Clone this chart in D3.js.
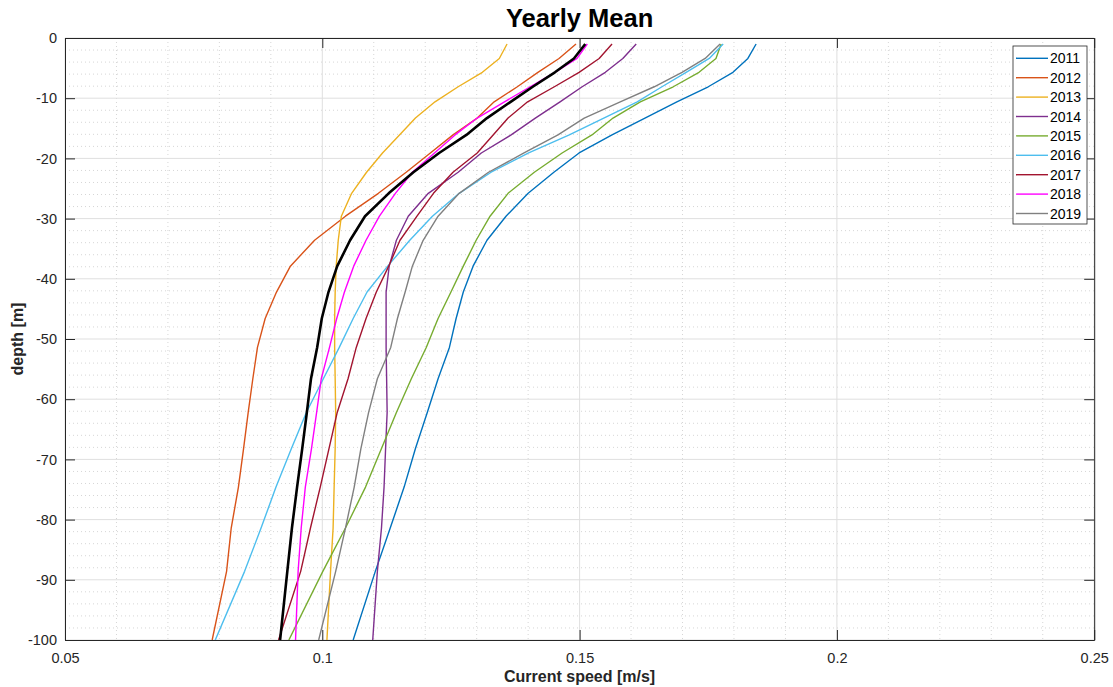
<!DOCTYPE html>
<html>
<head>
<meta charset="utf-8">
<script src="https://cdn.jsdelivr.net/npm/d3@7/dist/d3.min.js"></script>
<style>
  html, body { margin: 0; padding: 0; background: #ffffff; }
  svg { display: block; font-family: "Liberation Sans", Arial, Helvetica, sans-serif; }
</style>
</head>
<body>
<svg id="chart" width="1113" height="687"></svg>
<script>
// ---- data ----
const depths = [-1, -3.4, -5.7, -8.1, -10.6, -13.3, -16.1, -19.1, -22.3, -25.8, -29.6, -33.6, -37.9, -42.2, -46.6, -51.4, -56.6, -62.2, -68.2, -74.6, -81.4, -88.6, -100];

const years = ["2011", "2012", "2013", "2014", "2015", "2016", "2017", "2018", "2019"];

const speed2011 = [0.1843,0.1827,0.1798,0.1750,0.1689,0.1627,0.1563,0.1499,0.1450,0.1400,0.1357,0.1320,0.1293,0.1274,0.1260,0.1247,0.1225,0.1204,0.1181,0.1159,0.1132,0.1103,0.1060];
const speed2012 = [0.1493,0.1460,0.1419,0.1379,0.1334,0.1301,0.1254,0.1210,0.1163,0.1109,0.1045,0.0985,0.0938,0.0911,0.0889,0.0874,0.0865,0.0856,0.0847,0.0837,0.0823,0.0814,0.0786];
const speed2013 = [0.1359,0.1344,0.1311,0.1264,0.1219,0.1181,0.1150,0.1117,0.1086,0.1057,0.1037,0.1031,0.1027,0.1025,0.1024,0.1024,0.1025,0.1026,0.1025,0.1023,0.1021,0.1016,0.1009];
const speed2014 = [0.1610,0.1584,0.1550,0.1505,0.1462,0.1414,0.1367,0.1309,0.1264,0.1206,0.1167,0.1144,0.1130,0.1124,0.1124,0.1124,0.1125,0.1126,0.1123,0.1120,0.1115,0.1107,0.1098];
const speed2015 = [0.1775,0.1765,0.1732,0.1682,0.1618,0.1565,0.1524,0.1466,0.1412,0.1361,0.1326,0.1299,0.1274,0.1250,0.1225,0.1202,0.1173,0.1144,0.1115,0.1084,0.1045,0.1001,0.0935];
const speed2016 = [0.1779,0.1752,0.1707,0.1660,0.1612,0.1547,0.1480,0.1401,0.1328,0.1266,0.1214,0.1170,0.1127,0.1087,0.1060,0.1033,0.1002,0.0969,0.0940,0.0910,0.0881,0.0849,0.0792];
const speed2017 = [0.1563,0.1538,0.1499,0.1451,0.1399,0.1361,0.1332,0.1301,0.1254,0.1216,0.1184,0.1151,0.1129,0.1105,0.1085,0.1066,0.1050,0.1029,0.1013,0.0996,0.0977,0.0958,0.0915];
const speed2018 = [0.1515,0.1495,0.1452,0.1404,0.1354,0.1301,0.1258,0.1218,0.1175,0.1142,0.1111,0.1085,0.1061,0.1043,0.1028,0.1014,0.0998,0.0989,0.0979,0.0967,0.0959,0.0953,0.0948];
const speed2019 = [0.1773,0.1744,0.1699,0.1645,0.1579,0.1509,0.1458,0.1392,0.1323,0.1266,0.1225,0.1196,0.1175,0.1161,0.1146,0.1133,0.1107,0.1090,0.1075,0.1062,0.1045,0.1026,0.0993];
const speedMean = [0.1511,0.1489,0.1452,0.1409,0.1366,0.1320,0.1280,0.1227,0.1177,0.1129,0.1083,0.1054,0.1029,0.1012,0.0999,0.0990,0.0978,0.0970,0.0961,0.0951,0.0941,0.0932,0.0918];

const xTicks = [0.05, 0.1, 0.15, 0.2, 0.25];
const xTickLabels = ["0.05", "0.1", "0.15", "0.2", "0.25"];
const yTicks = [0, -10, -20, -30, -40, -50, -60, -70, -80, -90, -100];
const yTickLabels = ["0", "-10", "-20", "-30", "-40", "-50", "-60", "-70", "-80", "-90", "-100"];

const titleText = "Yearly Mean";
const xLabelText = "Current speed [m/s]";
const yLabelText = "depth [m]";

// ---- build ----
const seriesValues = [speed2011, speed2012, speed2013, speed2014, speed2015, speed2016, speed2017, speed2018, speed2019];
const colors = ["#0072BD", "#D95319", "#EDB120", "#7E2F8E", "#77AC30", "#4DBEEE", "#A2142F", "#FF00FF", "#808080"];

const L = 65, R = 1094.2, T = 38, B = 640;
const svg = d3.select("#chart");
const x = d3.scaleLinear().domain([0.05, 0.25]).range([L, R]);
const y = d3.scaleLinear().domain([-100, 0]).range([B, T]);
const textColor = "#262626";

// minor grid (dotted)
const xMinor = d3.range(0.06, 0.25, 0.01).map(v => +v.toFixed(2)).filter(v => Math.abs((v * 100) % 5) > 1e-6);
const yMinor = d3.range(-98, 0, 2).filter(v => v % 10 !== 0);
const grid = svg.append("g");
grid.selectAll("line.xminor").data(xMinor).join("line")
  .attr("x1", d => x(d)).attr("x2", d => x(d)).attr("y1", T).attr("y2", B)
  .attr("stroke", "#d6d6d6").attr("stroke-width", 1).attr("stroke-dasharray", "1,3");
grid.selectAll("line.yminor").data(yMinor).join("line")
  .attr("x1", L).attr("x2", R).attr("y1", d => y(d)).attr("y2", d => y(d))
  .attr("stroke", "#d6d6d6").attr("stroke-width", 1).attr("stroke-dasharray", "1,3");
// major grid
grid.selectAll("line.xmajor").data(xTicks).join("line")
  .attr("x1", d => x(d)).attr("x2", d => x(d)).attr("y1", T).attr("y2", B)
  .attr("stroke", "#dfdfdf").attr("stroke-width", 1);
grid.selectAll("line.ymajor").data(yTicks).join("line")
  .attr("x1", L).attr("x2", R).attr("y1", d => y(d)).attr("y2", d => y(d))
  .attr("stroke", "#dfdfdf").attr("stroke-width", 1);

// lines
const line = d3.line().x(d => x(d[0])).y(d => y(d[1]));
svg.append("clipPath").attr("id", "clip").append("rect")
  .attr("x", L).attr("y", T).attr("width", R - L).attr("height", B - T);
const lines = svg.append("g").attr("clip-path", "url(#clip)");
seriesValues.forEach((vals, i) => {
  lines.append("path")
    .datum(vals.map((v, k) => [v, depths[k]]))
    .attr("d", line).attr("fill", "none")
    .attr("stroke", colors[i]).attr("stroke-width", 1.4).attr("stroke-linejoin", "round");
});
lines.append("path")
  .datum(speedMean.map((v, k) => [v, depths[k]]))
  .attr("d", line).attr("fill", "none")
  .attr("stroke", "#000000").attr("stroke-width", 2.6).attr("stroke-linejoin", "round");

// axes
const fmtX = d => xTickLabels[xTicks.indexOf(d)];
const fmtY = d => yTickLabels[yTicks.indexOf(d)];
function styleAxis(g) {
  g.select(".domain").attr("stroke", textColor).attr("stroke-width", 1);
  g.selectAll(".tick line").attr("stroke", textColor).attr("stroke-width", 1);
  g.selectAll(".tick text").attr("fill", textColor).style("font-size", "14.5px")
    .style("font-family", '"Liberation Sans", Arial, sans-serif');
}
svg.append("g").attr("transform", `translate(0,${B})`)
  .call(d3.axisBottom(x).tickValues(xTicks).tickFormat(fmtX).tickSize(-10).tickSizeOuter(0).tickPadding(13))
  .call(styleAxis);
svg.append("g").attr("transform", `translate(0,${T})`)
  .call(d3.axisTop(x).tickValues(xTicks).tickFormat("").tickSize(-10).tickSizeOuter(0))
  .call(styleAxis);
svg.append("g").attr("transform", `translate(${L},0)`)
  .call(d3.axisLeft(y).tickValues(yTicks).tickFormat(fmtY).tickSize(-10).tickSizeOuter(0).tickPadding(8))
  .call(styleAxis);
svg.append("g").attr("transform", `translate(${R},0)`)
  .call(d3.axisRight(y).tickValues(yTicks).tickFormat("").tickSize(-10).tickSizeOuter(0))
  .call(styleAxis);

// title and labels
svg.append("text").attr("x", (L + R) / 2).attr("y", 27).attr("text-anchor", "middle")
  .style("font-size", "25.5px").style("font-weight", "bold").attr("fill", "#000").text(titleText);
svg.append("text").attr("x", (L + R) / 2).attr("y", 682).attr("text-anchor", "middle")
  .style("font-size", "16px").style("font-weight", "bold").attr("fill", textColor).text(xLabelText);
svg.append("text").attr("transform", `translate(23,${(T + B) / 2}) rotate(-90)`).attr("text-anchor", "middle")
  .style("font-size", "16px").style("font-weight", "bold").attr("fill", textColor).text(yLabelText);

// legend
const lgX = 1013, lgY = 46, lgW = 74, rowH = 19.4;
const lg = svg.append("g");
lg.append("rect").attr("x", lgX).attr("y", lgY).attr("width", lgW).attr("height", 178)
  .attr("fill", "#fff").attr("stroke", textColor).attr("stroke-width", 0.8);
years.forEach((yr, i) => {
  const cy = lgY + 12.3 + i * rowH;
  lg.append("line").attr("x1", lgX + 3).attr("x2", lgX + 35).attr("y1", cy).attr("y2", cy)
    .attr("stroke", colors[i]).attr("stroke-width", 1.4);
  lg.append("text").attr("x", lgX + 37).attr("y", cy).attr("dy", "0.36em")
    .style("font-size", "14px").attr("fill", "#000").text(yr);
});
</script>
</body>
</html>
